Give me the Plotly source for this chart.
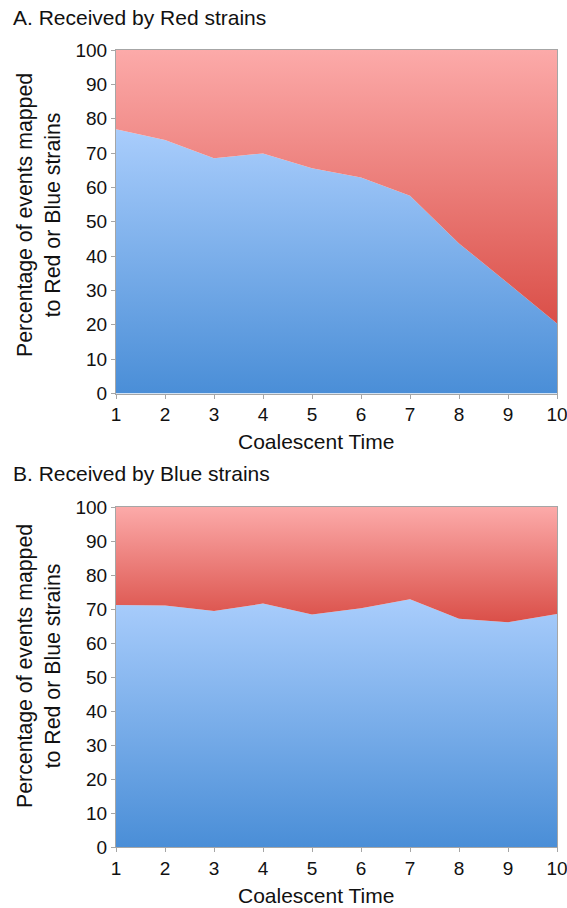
import plotly.graph_objects as go

# ---- data ----
time = list(range(1, 11))
blue_share_red_recv = [76.9, 73.8, 68.5, 69.9, 65.6, 62.9, 57.6, 43.7, 32.1, 20.4]
blue_share_blue_recv = [71.2, 71.0, 69.4, 71.6, 68.4, 70.2, 72.9, 67.1, 66.1, 68.5]
total = [100] * 10
panel_titles = ["A. Received by Red strains", "B. Received by Blue strains"]
y_ticks = list(range(0, 101, 10))
x_title = "Coalescent Time"
y_title = "Percentage of events mapped<br>to Red or Blue strains"

BLUE_SCALE = [[0, "#a9cdfc"], [1, "#4a8ed7"]]
RED_SCALE = [[0, "#fcaaa9"], [1, "#da4f48"]]
FONT = "Liberation Sans, Arial, sans-serif"
TXT = "#111111"

W, H = 567, 908
plot_left, plot_right = 116, 557
top_a, bot_a = 50, 393.5
top_b, bot_b = 507, 847
ML = plot_left
MR = W - plot_right
mt = top_a
mb = H - bot_b
ph = H - mt - mb
pw = W - ML - MR


def py(p):
    return (bot_b - p) / ph


def px(p):
    return (p - plot_left) / pw


fig = go.Figure()
panels = [(blue_share_red_recv, "x", "y"), (blue_share_blue_recv, "x2", "y2")]
for vals, xa, ya in panels:
    fig.add_trace(go.Scatter(
        x=time, y=vals, xaxis=xa, yaxis=ya, mode="lines", line=dict(width=0),
        fill="tozeroy",
        fillgradient=dict(type="vertical", colorscale=BLUE_SCALE,
                          start=max(vals), stop=0),
        hoverinfo="skip", showlegend=False))
    fig.add_trace(go.Scatter(
        x=time, y=total, xaxis=xa, yaxis=ya, mode="lines", line=dict(width=0),
        fill="tonexty",
        fillgradient=dict(type="vertical", colorscale=RED_SCALE,
                          start=100, stop=min(vals)),
        hoverinfo="skip", showlegend=False))

axis_common = dict(showline=True, linecolor="#a6a6a6", linewidth=1, mirror=True,
                   showgrid=False, zeroline=False, ticks="outside", ticklen=4,
                   tickcolor="#a6a6a6", automargin=False,
                   tickfont=dict(size=19, color=TXT, family=FONT))

for i, (top, bot) in enumerate([(top_a, bot_a), (top_b, bot_b)]):
    sfx = "" if i == 0 else str(i + 1)
    fig.layout["xaxis" + sfx] = dict(axis_common, range=[1, 10], tickvals=time,
                                     anchor="y" + sfx, ticklabeloverflow="allow")
    fig.layout["yaxis" + sfx] = dict(axis_common, range=[0, 100], tickvals=y_ticks,
                                     domain=[py(bot), py(top)], anchor="x" + sfx)

# panel titles
for t, yc in zip(panel_titles, [18, 473]):
    fig.add_annotation(text=t, xref="paper", yref="paper", x=px(11), y=py(yc),
                       xanchor="left", yanchor="middle", showarrow=False,
                       font=dict(size=21, color=TXT, family=FONT))
# x titles
for yc in [441.5, 895]:
    fig.add_annotation(text=x_title, xref="paper", yref="paper", x=px(316), y=py(yc),
                       xanchor="center", yanchor="middle", showarrow=False,
                       font=dict(size=21, color=TXT, family=FONT))
# y titles
for yc in [215, 666]:
    fig.add_annotation(text=y_title, xref="paper", yref="paper", x=px(39), y=py(yc),
                       xanchor="center", yanchor="middle", showarrow=False, textangle=-90,
                       font=dict(size=21.3, color=TXT, family=FONT))

fig.update_layout(width=W, height=H, margin=dict(l=ML, r=MR, t=mt, b=mb, autoexpand=False),
                  plot_bgcolor="white", paper_bgcolor="white",
                  font=dict(family=FONT, color=TXT))
fig.write_html("out.html", config={"displayModeBar": False, "staticPlot": True},
               post_script="document.body.style.margin='0';document.body.style.overflow='hidden';")
